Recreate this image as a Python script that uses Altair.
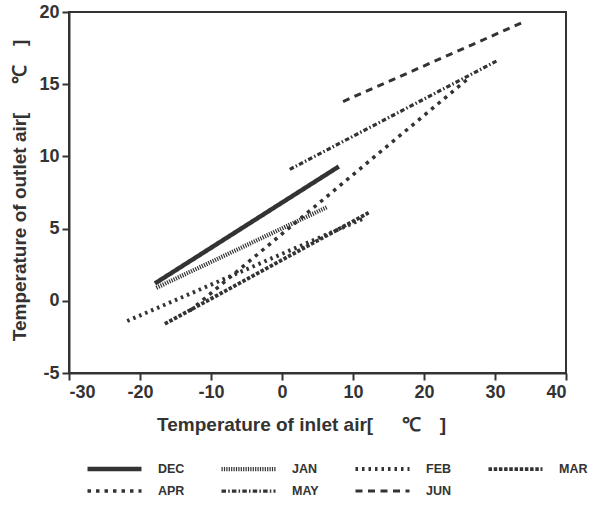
import altair as alt
import pandas as pd

months = ["DEC", "JAN", "FEB", "MAR", "APR", "MAY", "JUN"]
inlet_start = [-17.9, -17.7, -21.8, -16.5, -13.0, 1.1, 8.6]
inlet_end = [8.0, 6.4, 11.5, 12.2, 26.5, 30.2, 34.0]
outlet_start = [1.2, 0.9, -1.4, -1.6, -0.7, 9.1, 13.8]
outlet_end = [9.3, 6.5, 5.7, 6.1, 15.5, 16.6, 19.3]

x_ticks = [-30, -20, -10, 0, 10, 20, 30, 40]
y_ticks = [-5, 0, 5, 10, 15, 20]

dash_styles = [[1, 0], [1.2, 1.2], [2.5, 4], [3.5, 1.7], [3.5, 5], [4.5, 2.2, 1.5, 2.2], [7, 5.5]]
line_widths = [4.5, 3, 3, 3, 3.5, 3, 3.5]

rows = []
for m, xs, xe, ys, ye in zip(months, inlet_start, inlet_end, outlet_start, outlet_end):
    rows.append({"month": m, "inlet": xs, "outlet": ys, "ord": 0})
    rows.append({"month": m, "inlet": xe, "outlet": ye, "ord": 1})
df = pd.DataFrame(rows)

FONT = "Liberation Sans"
INK = "#333333"

chart = alt.Chart(df).mark_line(color=INK, strokeCap="butt").encode(
    x=alt.X("inlet:Q",
            scale=alt.Scale(domain=[-30, 40], nice=False, zero=False),
            axis=alt.Axis(values=x_ticks, title="Temperature of inlet air[\u2003\u2002\u2103\u2003]",
                          labelExpr="'' + datum.value",
                          titleX=232, titleY=51, titleBaseline="middle", labelPadding=3)),
    y=alt.Y("outlet:Q",
            scale=alt.Scale(domain=[-5, 20], nice=False, zero=False),
            axis=alt.Axis(values=y_ticks, title="Temperature of outlet air[\u2003\u2002\u2103\u2003]",
                          labelExpr="'' + datum.value",
                          titleX=-50, titleY=178, titleBaseline="middle", titleAngle=-90, labelPadding=3)),
    strokeDash=alt.StrokeDash("month:N", scale=alt.Scale(domain=months, range=dash_styles), title=None),
    strokeWidth=alt.StrokeWidth("month:N", scale=alt.Scale(domain=months, range=line_widths), title=None),
    order="ord:Q",
).properties(
    width=497, height=361,
    autosize=alt.AutoSizeParams(type="none"),
    padding={"left": 69, "top": 12, "right": 29, "bottom": 141},
).configure_view(
    stroke=INK, strokeWidth=2
).configure_axis(
    grid=False, domainColor=INK, domainWidth=2, tickColor=INK, tickWidth=2, tickSize=7,
    labelFont=FONT, labelFontSize=18, labelFontWeight="bold", labelColor=INK,
    titleFont=FONT, titleFontSize=19, titleFontWeight="bold", titleColor=INK,
).configure_legend(
    orient="none", legendX=16, legendY=449, columns=4, direction="horizontal",
    symbolType="stroke", symbolSize=2916, symbolStrokeColor=INK, clipHeight=16,
    labelFont=FONT, labelFontSize=12.5, labelFontWeight="bold", labelColor=INK,
    labelOffset=14, columnPadding=34, rowPadding=6,
)

chart.save("out.html", embed_options={"renderer": "svg", "actions": False})
